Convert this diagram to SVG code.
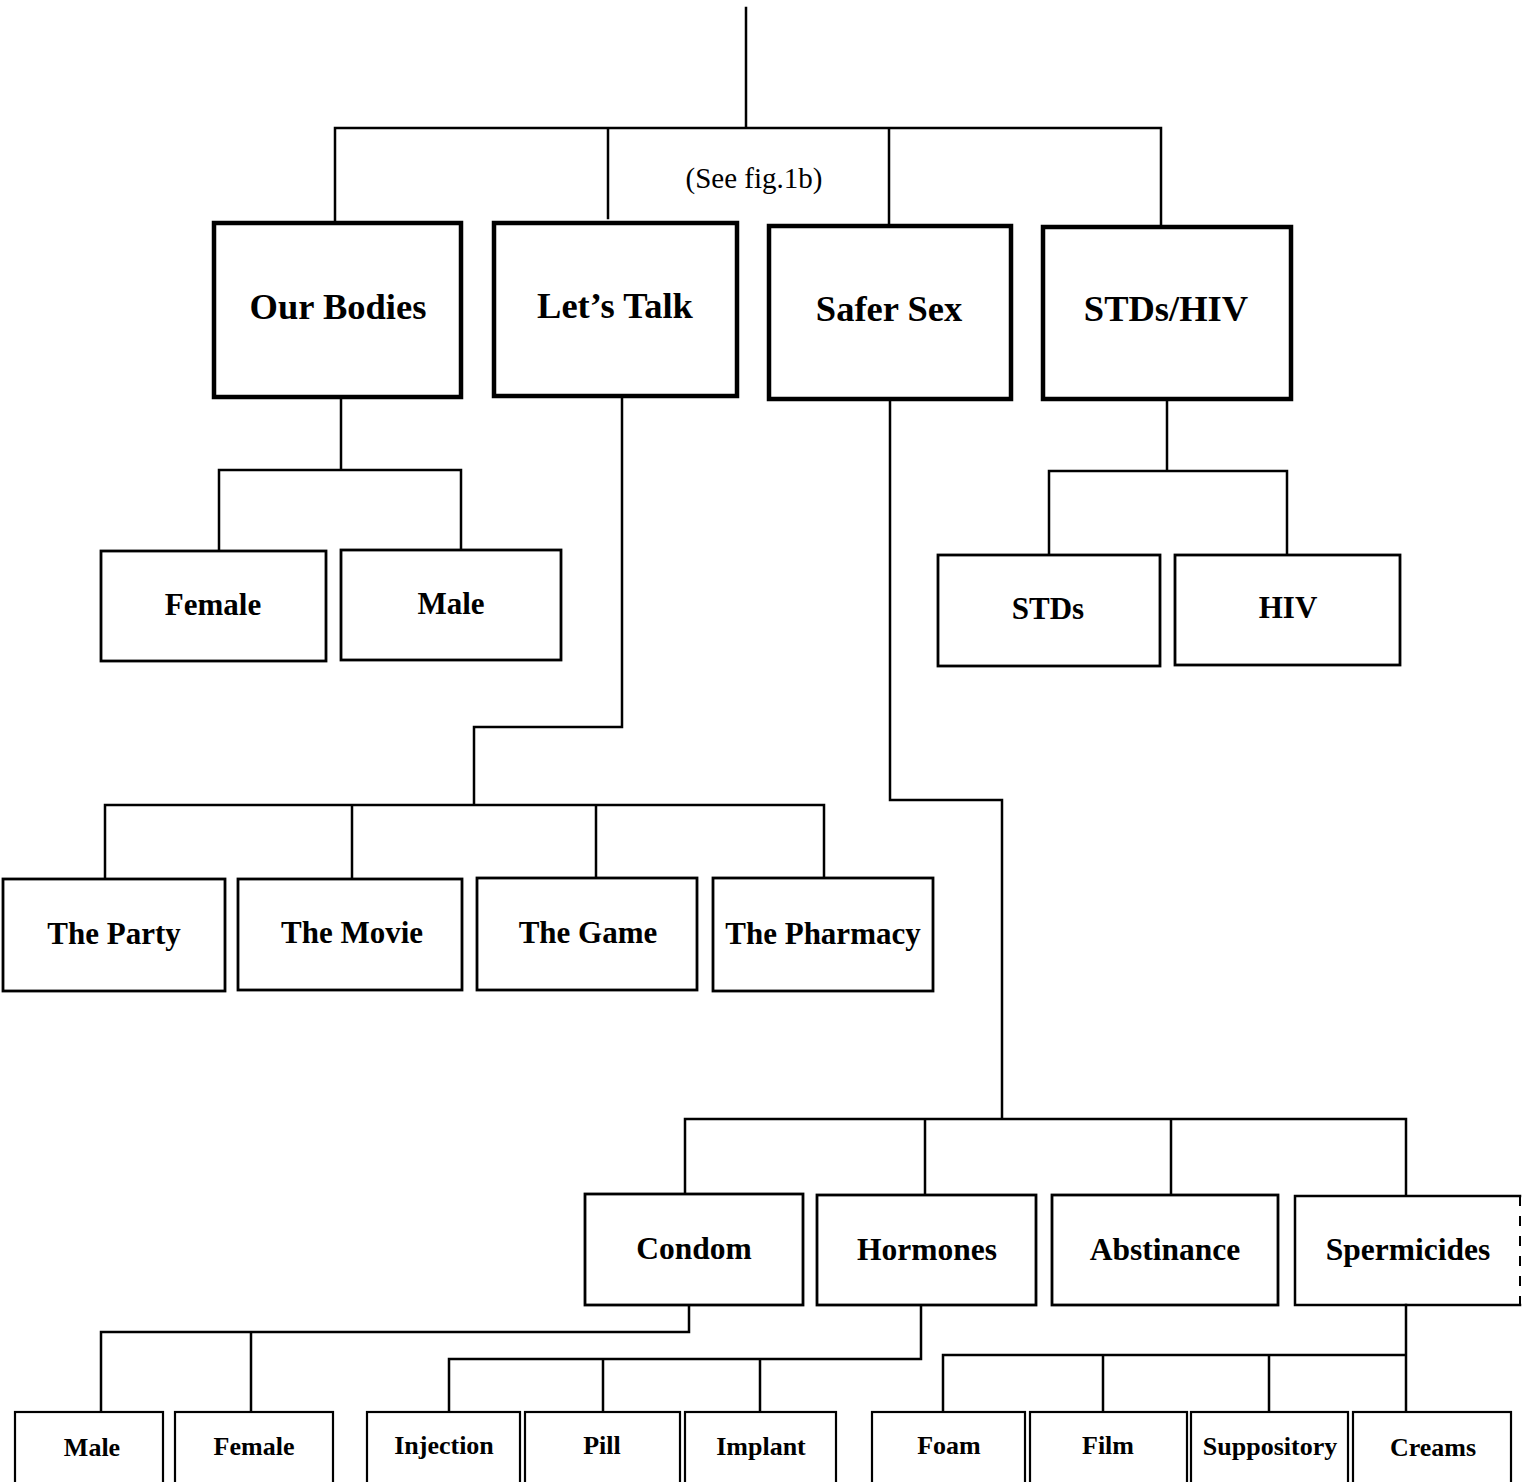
<svg xmlns="http://www.w3.org/2000/svg" width="1523" height="1482" viewBox="0 0 1523 1482">
<style>
.c{fill:none;stroke:#000;stroke-width:2.5;stroke-linecap:square}
.b1{fill:#fff;stroke:#000;stroke-width:4.5}
.b2{fill:#fff;stroke:#000;stroke-width:2.8}
.b3{fill:#fff;stroke:#000;stroke-width:2.2}
text{font-family:"Liberation Serif","Times New Roman",serif;font-weight:bold;text-anchor:middle;fill:#000}
.t1{font-size:36.5px}
.t2{font-size:31px}
.t3{font-size:31.5px}
.t4{font-size:26px}
.note{font-weight:normal;font-size:29px}
</style>
<rect width="1523" height="1482" fill="#fff"/>
<g id="connectors">
<path class="c" d="M746 8V128M335 128H1161M335 128V222M608 128V218M889 128V225M1161 128V226"/>
<path class="c" d="M341 397V470M219 470H461M219 470V551M461 470V550"/>
<path class="c" d="M622 396V727H474V805M105 805H824M105 805V879M352 805V879M596 805V878M824 805V878"/>
<path class="c" d="M890 399V800H1002V1119M685 1119H1406M685 1119V1194M925 1119V1195M1171 1119V1195M1406 1119V1195"/>
<path class="c" d="M1167 399V471M1049 471H1287M1049 471V555M1287 471V555"/>
<path class="c" d="M689 1305V1332H101V1412M251 1332V1412"/>
<path class="c" d="M921 1305V1359H449V1412M603 1359V1412M760 1359V1412"/>
<path class="c" d="M1406 1305V1355H943V1412M1103 1355V1412M1269 1355V1412M1406 1355V1412"/>
</g>
<text class="note" x="754" y="188">(See fig.1b)</text>
<g id="our-bodies"><rect class="b1" x="214" y="223" width="247" height="174"/><text class="t1" x="338" y="319">Our Bodies</text></g>
<g id="lets-talk"><rect class="b1" x="494" y="223" width="243" height="173"/><text class="t1" x="615" y="318">Let’s Talk</text></g>
<g id="safer-sex"><rect class="b1" x="769" y="226" width="242" height="173"/><text class="t1" x="889" y="321">Safer Sex</text></g>
<g id="stds-hiv"><rect class="b1" x="1043" y="227" width="248" height="172"/><text class="t1" x="1166" y="321">STDs/HIV</text></g>
<g id="female1"><rect class="b2" x="101" y="551" width="225" height="110"/><text class="t2" x="213" y="615">Female</text></g>
<g id="male1"><rect class="b2" x="341" y="550" width="220" height="110"/><text class="t2" x="451" y="614">Male</text></g>
<g id="stds"><rect class="b2" x="938" y="555" width="222" height="111"/><text class="t2" x="1048" y="619">STDs</text></g>
<g id="hiv"><rect class="b2" x="1175" y="555" width="225" height="110"/><text class="t2" x="1288" y="618">HIV</text></g>
<g id="the-party"><rect class="b2" x="3" y="879" width="222" height="112"/><text class="t2" x="114" y="944">The Party</text></g>
<g id="the-movie"><rect class="b2" x="238" y="879" width="224" height="111"/><text class="t2" x="352" y="943">The Movie</text></g>
<g id="the-game"><rect class="b2" x="477" y="878" width="220" height="112"/><text class="t2" x="588" y="943">The Game</text></g>
<g id="the-pharmacy"><rect class="b2" x="713" y="878" width="220" height="113"/><text class="t2" x="823" y="944">The Pharmacy</text></g>
<g id="condom"><rect class="b2" x="585" y="1194" width="218" height="111"/><text class="t3" x="694" y="1259">Condom</text></g>
<g id="hormones"><rect class="b2" x="817" y="1195" width="219" height="110"/><text class="t3" x="927" y="1260">Hormones</text></g>
<g id="abstinance"><rect class="b2" x="1052" y="1195" width="226" height="110"/><text class="t3" x="1165" y="1260">Abstinance</text></g>
<g id="spermicides"><path class="c" d="M1520 1196H1295V1305H1520"/><path d="M1520 1196V1305" fill="none" stroke="#000" stroke-width="2" stroke-dasharray="10 10"/><text class="t3" x="1408" y="1260">Spermicides</text></g>
<g id="male2"><rect class="b3" x="15" y="1412" width="148" height="80"/><text class="t4" x="92" y="1456">Male</text></g>
<g id="female2"><rect class="b3" x="175" y="1412" width="158" height="80"/><text class="t4" x="254" y="1455">Female</text></g>
<g id="injection"><rect class="b3" x="367" y="1412" width="153" height="80"/><text class="t4" x="444" y="1454">Injection</text></g>
<g id="pill"><rect class="b3" x="525" y="1412" width="155" height="80"/><text class="t4" x="602" y="1454">Pill</text></g>
<g id="implant"><rect class="b3" x="685" y="1412" width="151" height="80"/><text class="t4" x="761" y="1455">Implant</text></g>
<g id="foam"><rect class="b3" x="872" y="1412" width="153" height="80"/><text class="t4" x="949" y="1454">Foam</text></g>
<g id="film"><rect class="b3" x="1030" y="1412" width="157" height="80"/><text class="t4" x="1108" y="1454">Film</text></g>
<g id="suppository"><rect class="b3" x="1191" y="1412" width="157" height="80"/><text class="t4" x="1270" y="1455">Suppository</text></g>
<g id="creams"><rect class="b3" x="1353" y="1412" width="158" height="80"/><text class="t4" x="1433" y="1456">Creams</text></g>
</svg>
